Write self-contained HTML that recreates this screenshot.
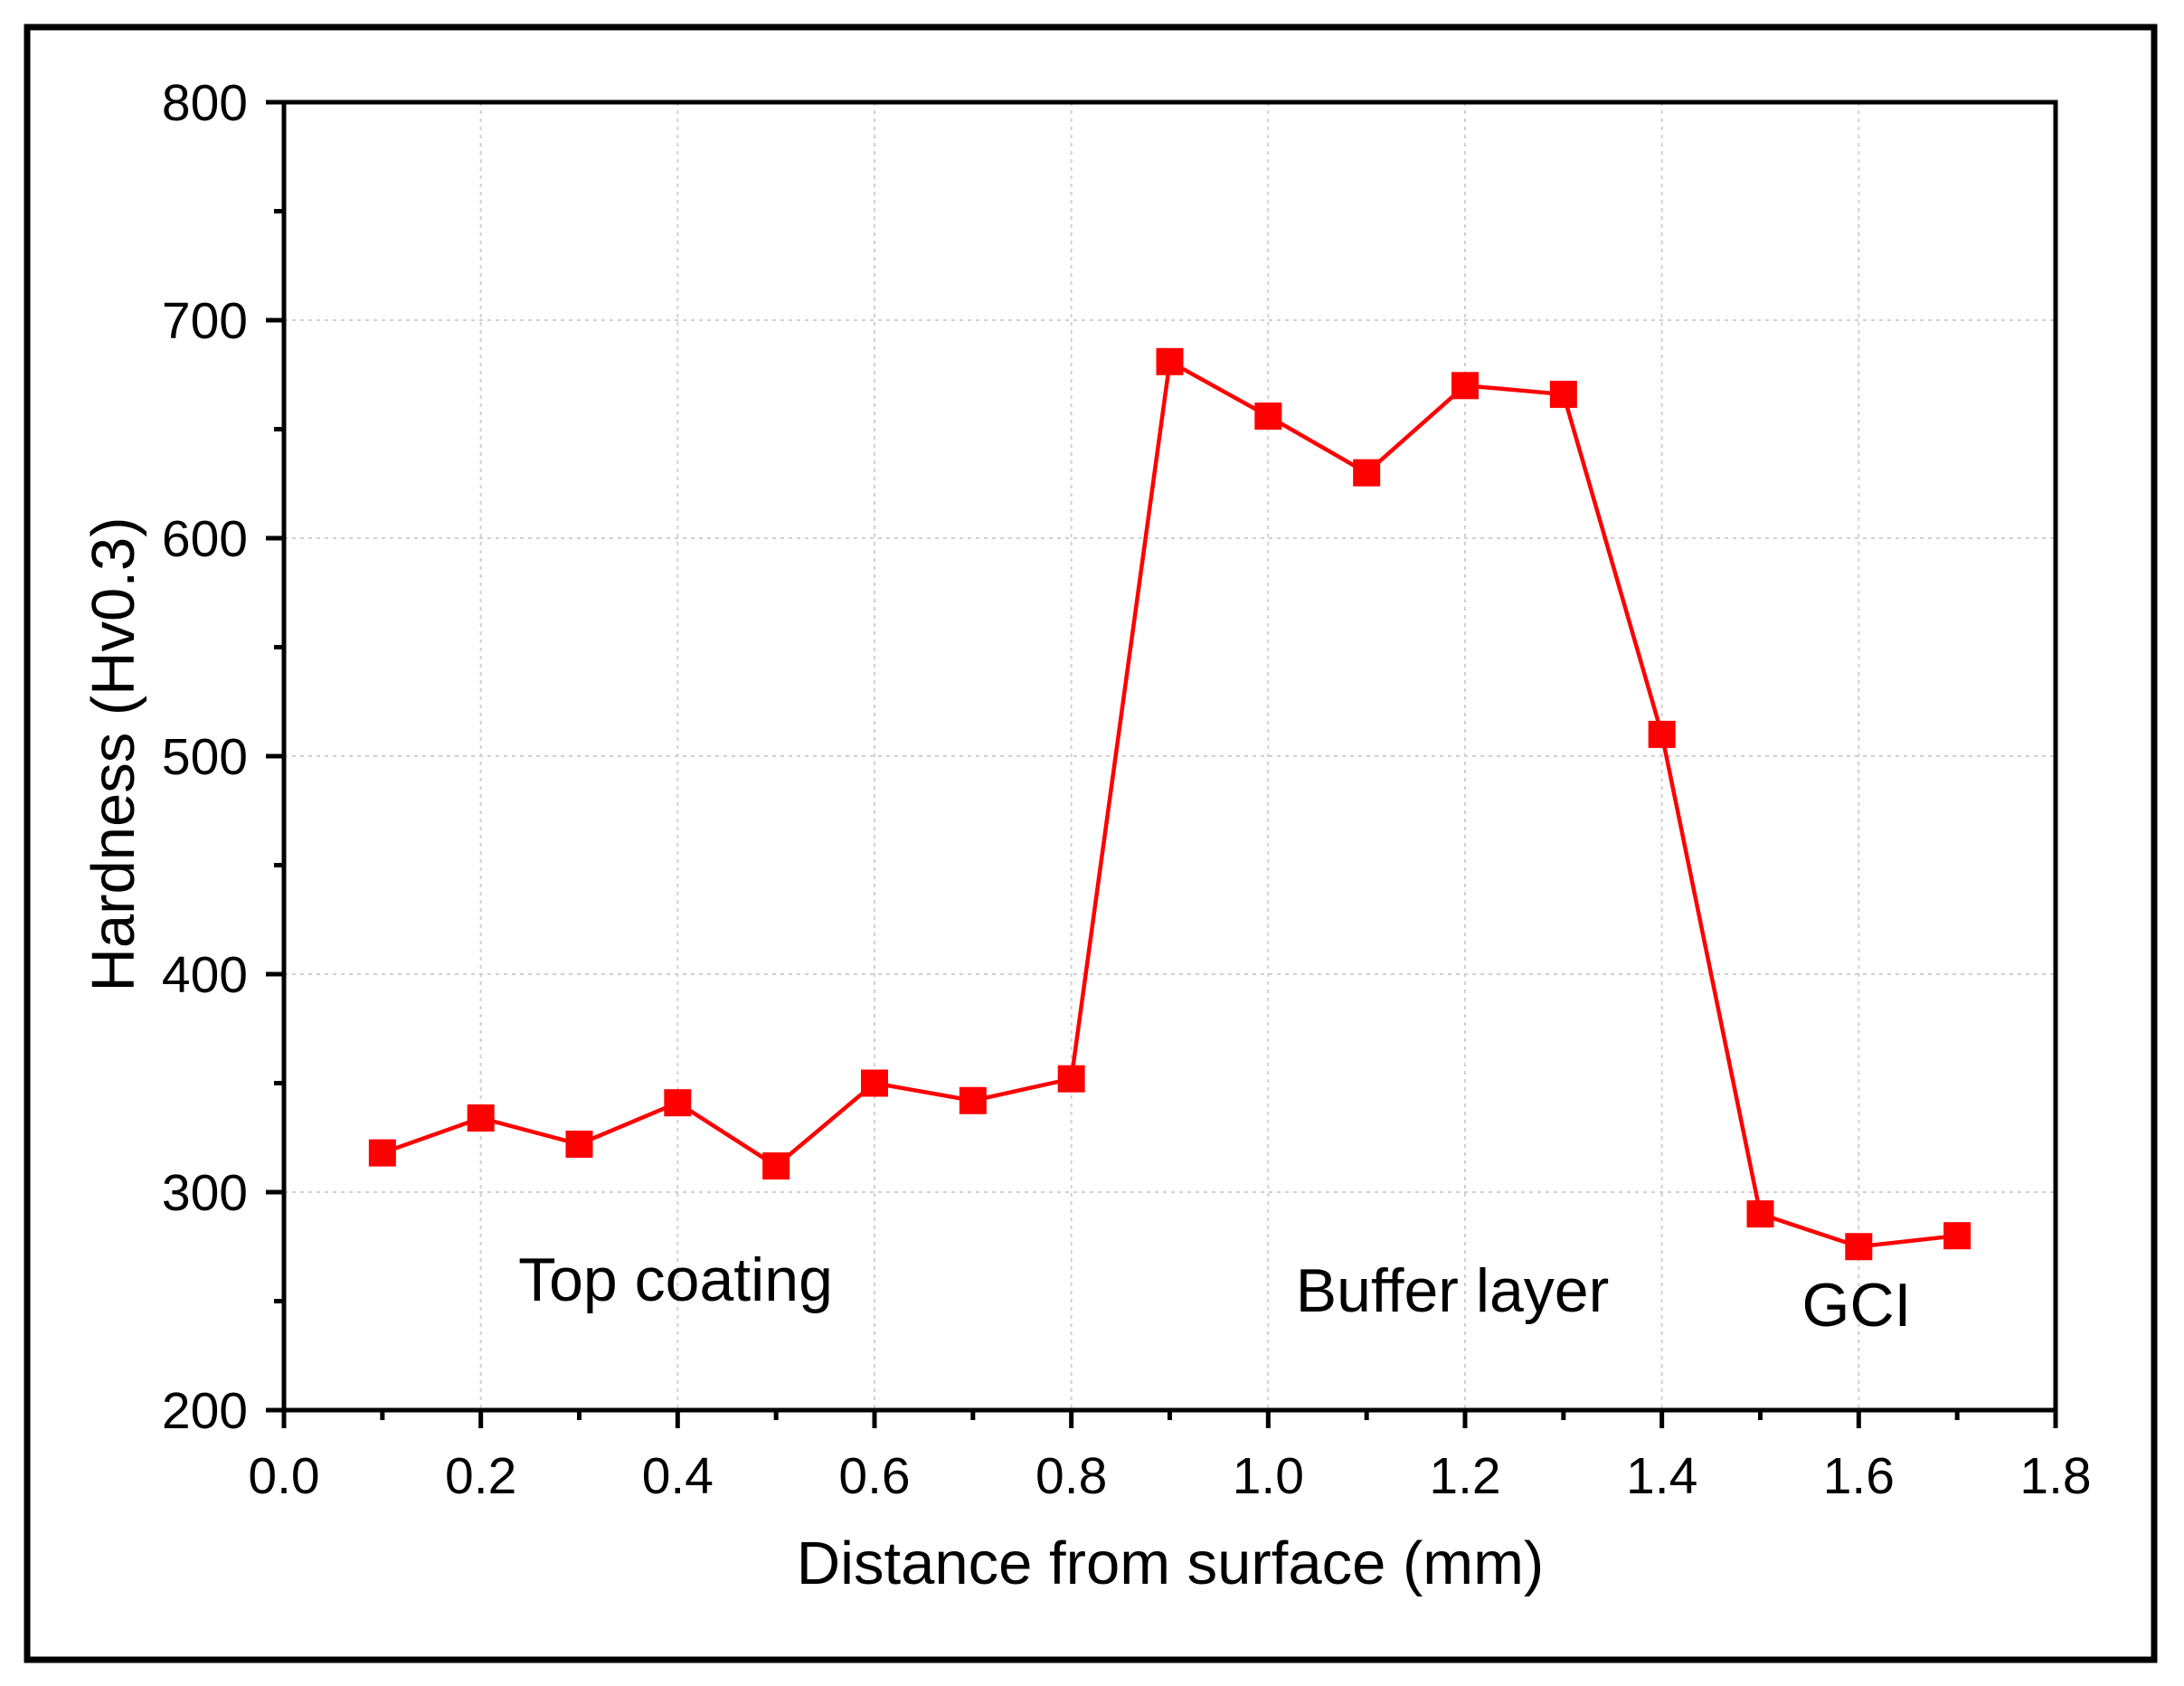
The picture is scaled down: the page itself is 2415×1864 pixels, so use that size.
<!DOCTYPE html>
<html><head><meta charset="utf-8"><style>
html,body{margin:0;padding:0;background:#fff;}
svg{display:block;font-family:"Liberation Sans",Arial,sans-serif;}
</style></head><body>
<svg id="chart" width="2415" height="1864" viewBox="0 0 2415 1864" xmlns="http://www.w3.org/2000/svg">
<rect x="30" y="30" width="2352" height="1805" fill="none" stroke="#000" stroke-width="7"/>
<g id="grid"></g>
<g id="axes"></g>
<g id="series"></g>
<text x="747" y="1438" font-size="68" text-anchor="middle">Top coating</text>
<text x="1606" y="1450" font-size="68" text-anchor="middle">Buffer layer</text>
<text x="2053" y="1466" font-size="68" text-anchor="middle">GCI</text>
<text x="1294" y="1751" font-size="67" text-anchor="middle">Distance from surface (mm)</text>
<text x="0" y="0" font-size="67" text-anchor="middle" transform="translate(148,834) rotate(-90)">Hardness (Hv0.3)</text>
</svg>
<script>
const xValues = [0.1,0.2,0.3,0.4,0.5,0.6,0.7,0.8,0.9,1.0,1.1,1.2,1.3,1.4,1.5,1.6,1.7];
const hardness = [318,334,322,341,312,350,342,352,681,656,630,670,666,510,290,275,280];
const xTicks = ["0.0","0.2","0.4","0.6","0.8","1.0","1.2","1.4","1.6","1.8"];
const yTicks = ["200","300","400","500","600","700","800"];

const NS="http://www.w3.org/2000/svg";
const L=314,R=2273,T=113,B=1559;
const xMin=0,xMax=1.8,yMin=200,yMax=800;
function sx(v){return L+(v-xMin)/(xMax-xMin)*(R-L);}
function sy(v){return B-(v-yMin)/(yMax-yMin)*(B-T);}
function mk(tag,attrs,parent){const e=document.createElementNS(NS,tag);for(const k in attrs)e.setAttribute(k,attrs[k]);parent.appendChild(e);return e;}
const grid=document.getElementById('grid'),axes=document.getElementById('axes'),series=document.getElementById('series');

xTicks.forEach(t=>{
  const v=parseFloat(t),x=sx(v);
  if(v>xMin&&v<xMax){
    const g=mk('line',{x1:x,y1:T,x2:x,y2:B,stroke:'#d0d0d0','stroke-width':2,'stroke-dasharray':'4 5'},grid);
    
    
  }
  const tk=mk('line',{x1:x,y1:B,x2:x,y2:B+20,stroke:'#000','stroke-width':5},axes);
  
  
  const lb=mk('text',{x:x,y:B+92,'font-size':57,'text-anchor':'middle'},axes);
  lb.textContent=t;
  
  
});
for(let i=0;i<xTicks.length-1;i++){
  const v=(parseFloat(xTicks[i])+parseFloat(xTicks[i+1]))/2,x=sx(v);
  const m=mk('line',{x1:x,y1:B,x2:x,y2:B+11,stroke:'#000','stroke-width':5},axes);
  
  
}
yTicks.forEach(t=>{
  const v=parseFloat(t),y=sy(v);
  if(v>yMin&&v<yMax){
    const g=mk('line',{x1:L,y1:y,x2:R,y2:y,stroke:'#d0d0d0','stroke-width':2,'stroke-dasharray':'4 5'},grid);
    
    
  }
  const tk=mk('line',{x1:L-20,y1:y,x2:L,y2:y,stroke:'#000','stroke-width':5},axes);
  
  
  const lb=mk('text',{x:L-40,y:y+20,'font-size':57,'text-anchor':'end'},axes);
  lb.textContent=t;
  
  
});
for(let i=0;i<yTicks.length-1;i++){
  const v=(parseFloat(yTicks[i])+parseFloat(yTicks[i+1]))/2,y=sy(v);
  const m=mk('line',{x1:L-11,y1:y,x2:L,y2:y,stroke:'#000','stroke-width':5},axes);
  
  
}
const box=mk('rect',{x:L,y:T,width:R-L,height:B-T,fill:'none',stroke:'#000','stroke-width':5},axes);



const pts=xValues.map((x,i)=>sx(x)+','+sy(hardness[i])).join(' ');
const line=mk('polyline',{points:pts,fill:'none',stroke:'#ff0000','stroke-width':4.5},series);


xValues.forEach((x,i)=>{
  const s=30;
  const r=mk('rect',{x:sx(x)-s/2,y:sy(hardness[i])-s/2,width:s,height:s,fill:'#ff0000'},series);
  
  
});
</script>
</body></html>
